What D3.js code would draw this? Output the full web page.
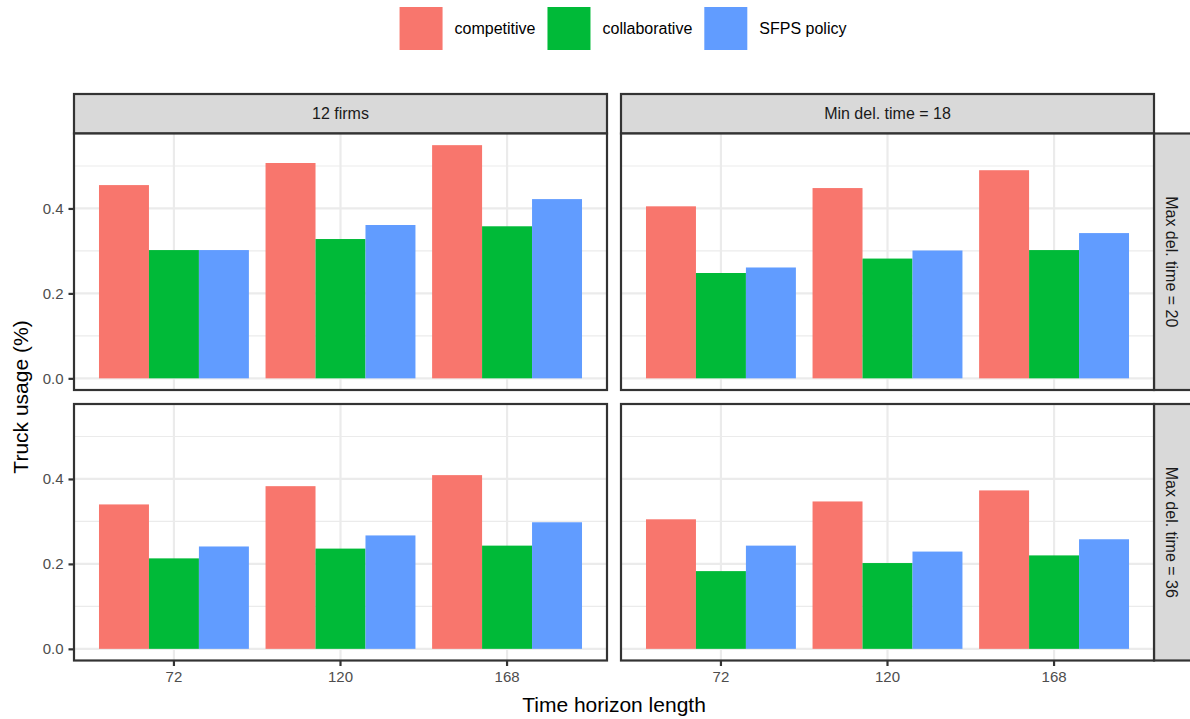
<!DOCTYPE html>
<html>
<head>
<meta charset="utf-8">
<script src="https://cdn.jsdelivr.net/npm/d3@7"></script>
<style>
  body { margin: 0; background: #fff; }
  svg { display: block; font-family: "Liberation Sans", Arial, sans-serif; }
</style>
</head>
<body>
<script>
// categories
var horizons = ['72', '120', '168'];
var policies = ['competitive', 'collaborative', 'SFPS policy'];
var colLabels = ['12 firms', 'Min del. time = 18'];
var rowLabels = ['Max del. time = 20', 'Max del. time = 36'];
var yTicks = [0, 0.2, 0.4];
var yMinor = [0.1, 0.3, 0.5];

// values per panel: [top-left, top-right, bottom-left, bottom-right], each by horizon
var competitive = [
    [0.455, 0.507, 0.549],
    [0.405, 0.448, 0.490],
    [0.340, 0.383, 0.409],
    [0.305, 0.347, 0.373]
];
var collaborative = [
    [0.302, 0.328, 0.358],
    [0.248, 0.282, 0.302],
    [0.213, 0.236, 0.243],
    [0.183, 0.202, 0.220]
];
var sfps = [
    [0.302, 0.361, 0.422],
    [0.261, 0.301, 0.342],
    [0.241, 0.267, 0.298],
    [0.243, 0.229, 0.258]
];

var series = [competitive, collaborative, sfps];
var colors = ['#F8766D', '#00BA38', '#619CFF'];

var svg = d3.select('body').append('svg')
    .attr('width', 1190)
    .attr('height', 719);

// panel layout
var colX = [74, 621];
var rowY = [133.5, 404];
var panelW = 533;
var panelH = 256.5;

var yMax = d3.max(series, (s) => d3.max(s, (p) => d3.max(p)));
var y = d3.scaleLinear().domain([-0.05 * yMax, 1.05 * yMax]).range([panelH, 0]);
var x = d3.scaleBand().domain(horizons).range([0, panelW]).paddingInner(0.1).paddingOuter(0.15);
var xs = d3.scaleBand().domain(policies).range([0, x.bandwidth()]);
var color = d3.scaleOrdinal().domain(policies).range(colors);

// top strips
colLabels.forEach((lab, c) => {
    svg.append('rect')
        .attr('x', colX[c]).attr('y', 94)
        .attr('width', panelW).attr('height', rowY[0] - 94)
        .attr('fill', '#D9D9D9').attr('stroke', '#333').attr('stroke-width', 2.2);
    svg.append('text')
        .attr('x', colX[c] + panelW / 2).attr('y', (94 + rowY[0]) / 2)
        .attr('dy', '0.35em').attr('text-anchor', 'middle')
        .attr('font-size', 16).attr('fill', '#1A1A1A')
        .text(lab);
});

// right strips
rowLabels.forEach((lab, r) => {
    svg.append('rect')
        .attr('x', colX[1] + panelW).attr('y', rowY[r])
        .attr('width', 40).attr('height', panelH)
        .attr('fill', '#D9D9D9').attr('stroke', '#333').attr('stroke-width', 2.2);
    var cx = colX[1] + panelW + 17.5;
    var cy = rowY[r] + panelH / 2;
    svg.append('text')
        .attr('transform', 'translate(' + cx + ',' + cy + ') rotate(90)')
        .attr('dy', '0.35em').attr('text-anchor', 'middle')
        .attr('font-size', 16).attr('fill', '#1A1A1A')
        .text(lab);
});

// panels
[0, 1].forEach((r) => {
    [0, 1].forEach((c) => {
        var idx = r * 2 + c;
        var g = svg.append('g')
            .attr('transform', 'translate(' + colX[c] + ',' + rowY[r] + ')');

        g.append('rect').attr('width', panelW).attr('height', panelH).attr('fill', '#fff');

        // minor grid
        g.selectAll('.minor').data(yMinor).enter().append('line')
            .attr('x1', 0).attr('x2', panelW)
            .attr('y1', (d) => y(d)).attr('y2', (d) => y(d))
            .attr('stroke', '#EBEBEB').attr('stroke-width', 1.1);
        // major grid
        g.selectAll('.majory').data(yTicks).enter().append('line')
            .attr('x1', 0).attr('x2', panelW)
            .attr('y1', (d) => y(d)).attr('y2', (d) => y(d))
            .attr('stroke', '#EBEBEB').attr('stroke-width', 2.2);
        g.selectAll('.majorx').data(horizons).enter().append('line')
            .attr('x1', (d) => x(d) + x.bandwidth() / 2).attr('x2', (d) => x(d) + x.bandwidth() / 2)
            .attr('y1', 0).attr('y2', panelH)
            .attr('stroke', '#EBEBEB').attr('stroke-width', 2.2);

        // bars
        policies.forEach((p, k) => {
            g.selectAll('.bar' + k).data(horizons).enter().append('rect')
                .attr('x', (h) => x(h) + xs(p))
                .attr('y', (h, i) => y(series[k][idx][i]))
                .attr('width', xs.bandwidth())
                .attr('height', (h, i) => y(0) - y(series[k][idx][i]))
                .attr('fill', color(p));
        });

        // border
        g.append('rect').attr('width', panelW).attr('height', panelH)
            .attr('fill', 'none').attr('stroke', '#333').attr('stroke-width', 2.2);

        if (c === 0) {
            var ya = g.append('g')
                .call(d3.axisLeft(y).tickValues(yTicks).tickFormat(d3.format('.1f')).tickSize(5.5).tickPadding(5));
            ya.select('.domain').remove();
            ya.selectAll('line').attr('stroke', '#333').attr('stroke-width', 2.2);
            ya.selectAll('text').attr('fill', '#4D4D4D').attr('font-size', 15)
                .attr('font-family', '"Liberation Sans", Arial, sans-serif');
        }
        if (r === 1) {
            var xa = g.append('g')
                .attr('transform', 'translate(0,' + panelH + ')')
                .call(d3.axisBottom(x).tickSize(5.5).tickPadding(5));
            xa.select('.domain').remove();
            xa.selectAll('line').attr('stroke', '#333').attr('stroke-width', 2.2);
            xa.selectAll('text').attr('fill', '#4D4D4D').attr('font-size', 15)
                .attr('font-family', '"Liberation Sans", Arial, sans-serif');
        }
    });
});

// axis titles
svg.append('text')
    .attr('x', (colX[0] + colX[1] + panelW) / 2).attr('y', 712)
    .attr('text-anchor', 'middle').attr('font-size', 21)
    .text('Time horizon length');
svg.append('text')
    .attr('transform', 'translate(28,' + (rowY[0] + rowY[1] + panelH) / 2 + ') rotate(-90)')
    .attr('text-anchor', 'middle').attr('font-size', 21)
    .text('Truck usage (%)');

// legend
var legend = svg.append('g');
var lx = 0;
policies.forEach((p) => {
    var item = legend.append('g').attr('transform', 'translate(' + lx + ',0)');
    item.append('rect').attr('x', 0).attr('y', 7).attr('width', 43).attr('height', 43).attr('fill', color(p));
    var t = item.append('text').attr('x', 55).attr('y', 28.5).attr('dy', '0.35em')
        .attr('font-size', 16).text(p);
    lx += 55 + t.node().getComputedTextLength() + 12;
});
legend.attr('transform', 'translate(' + (623 - (lx - 12) / 2) + ',0)');
</script>
</body>
</html>
